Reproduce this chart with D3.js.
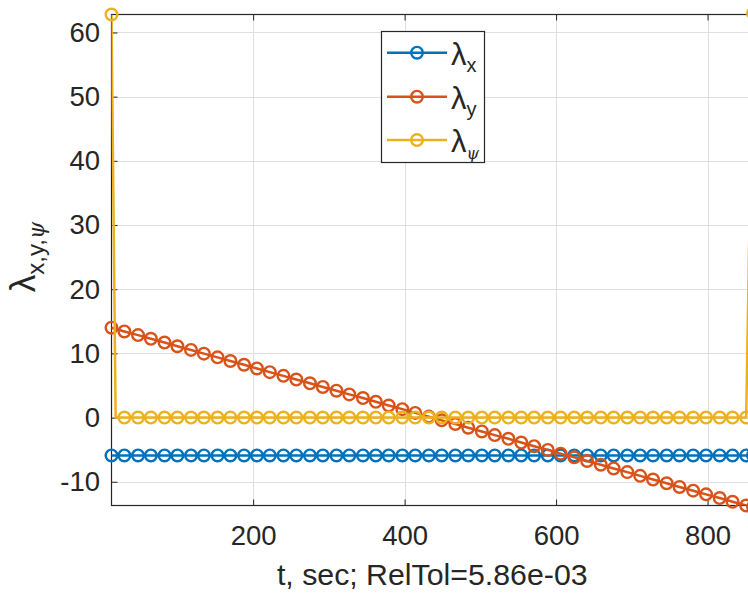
<!DOCTYPE html>
<html>
<head>
<meta charset="utf-8">
<script src="https://cdn.jsdelivr.net/npm/d3@7"></script>
<style>
  html, body { margin: 0; padding: 0; background: #fff; }
  svg { display: block; }
  text { font-family: "Liberation Sans", Arial, Helvetica, sans-serif; fill: #262626; }
</style>
</head>
<body>
<svg id="chart" width="748" height="595"></svg>
<script>
// Sample times (s) shared by the x and y multipliers
const t = [13, 30, 48, 65, 83, 100, 118, 135, 153, 170, 188, 205, 222, 240, 257, 275,
  292, 310, 327, 345, 362, 379, 397, 414, 432, 449, 467, 484, 502, 519, 537, 554,
  571, 589, 606, 624, 641, 659, 676, 694, 711, 728, 746, 763, 781, 798, 816, 833, 851, 860];

const lambdaX = [-5.9, -5.9, -5.9, -5.9, -5.9, -5.9, -5.9, -5.9, -5.9, -5.9, -5.9, -5.9, -5.9,
  -5.9, -5.9, -5.9, -5.9, -5.9, -5.9, -5.9, -5.9, -5.9, -5.9, -5.9, -5.9, -5.9, -5.9, -5.9,
  -5.9, -5.9, -5.9, -5.9, -5.9, -5.9, -5.9, -5.9, -5.9, -5.9, -5.9, -5.9, -5.9, -5.9, -5.9,
  -5.9, -5.9, -5.9, -5.9, -5.9, -5.9, -5.9];

const lambdaY = [14.0, 13.42, 12.85, 12.27, 11.69, 11.11, 10.54, 9.96, 9.38, 8.81, 8.23, 7.65,
  7.08, 6.50, 5.92, 5.34, 4.77, 4.19, 3.61, 3.04, 2.46, 1.88, 1.31, 0.73, 0.15, -0.43, -1.00,
  -1.58, -2.16, -2.73, -3.31, -3.89, -4.46, -5.04, -5.62, -6.20, -6.77, -7.35, -7.93, -8.50,
  -9.08, -9.66, -10.23, -10.81, -11.39, -11.96, -12.54, -13.12, -13.70, -13.90];

// Heading multiplier has its own time base (extra knot right after the initial spike)
const tPsi = [13, 18.5, 30, 48, 65, 83, 100, 118, 135, 153, 170, 188, 205, 222, 240, 257, 275,
  292, 310, 327, 345, 362, 379, 397, 414, 432, 449, 467, 484, 502, 519, 537, 554,
  571, 589, 606, 624, 641, 659, 676, 694, 711, 728, 746, 763, 781, 798, 816, 833, 851, 860];
const lambdaPsi = [62.8, 0, 0, 0, 0, 0, 0, 0, 0, 0, 0, 0, 0, 0, 0, 0, 0, 0, 0, 0, 0, 0, 0, 0, 0,
  0, 0, 0, 0, 0, 0, 0, 0, 0, 0, 0, 0, 0, 0, 0, 0, 0, 0, 0, 0, 0, 0, 0, 0, 0, 63.0];
const psiNoMarker = [1];

const xTicks = [200, 400, 600, 800];
const yTicks = [-10, 0, 10, 20, 30, 40, 50, 60];
const xDomain = [13, 860];
const yDomain = [-13.7, 62.8];

const colors = { x: "#0072BD", y: "#D95319", psi: "#EDB120" };

const svg = d3.select("#chart");
const plot = { left: 111.5, top: 14.5, bottom: 505.5, right: 753 };

const x = d3.scaleLinear().domain(xDomain).range([plot.left, plot.right]);
const y = d3.scaleLinear().domain(yDomain).range([plot.bottom, plot.top]);

// grid
const grid = svg.append("g").attr("stroke", "#dfdfdf").attr("stroke-width", 1);
grid.selectAll("line.gx").data(xTicks).join("line")
  .attr("x1", d => Math.round(x(d)) + 0.5).attr("x2", d => Math.round(x(d)) + 0.5)
  .attr("y1", plot.top).attr("y2", plot.bottom);
grid.selectAll("line.gy").data(yTicks).join("line")
  .attr("y1", d => Math.round(y(d)) + 0.5).attr("y2", d => Math.round(y(d)) + 0.5)
  .attr("x1", plot.left).attr("x2", plot.right);

// axes (plain hyphen-minus for negative labels)
const fmt = d => String(d);
const axisStyle = g => {
  g.select(".domain").remove();
  g.selectAll(".tick line").attr("stroke", "#262626").attr("stroke-width", 1);
  g.selectAll(".tick text").attr("fill", "#262626").style("font-size", "27.5px")
    .style("font-family", "'Liberation Sans', Arial, Helvetica, sans-serif");
};
svg.append("g").attr("transform", `translate(0,${plot.bottom})`)
  .call(d3.axisBottom(x).tickValues(xTicks).tickFormat(fmt)
    .tickSizeInner(-6).tickSizeOuter(0).tickPadding(20))
  .call(axisStyle);
svg.append("g").attr("transform", `translate(0,${plot.top})`)
  .call(d3.axisTop(x).tickValues(xTicks).tickFormat("").tickSizeInner(-6).tickSizeOuter(0))
  .call(axisStyle);
svg.append("g").attr("transform", `translate(${plot.left},0)`)
  .call(d3.axisLeft(y).tickValues(yTicks).tickFormat(fmt)
    .tickSizeInner(-6).tickSizeOuter(0).tickPadding(11.5))
  .call(axisStyle);

// box
svg.append("rect")
  .attr("x", plot.left).attr("y", plot.top)
  .attr("width", plot.right - plot.left).attr("height", plot.bottom - plot.top)
  .attr("fill", "none").attr("stroke", "#262626").attr("stroke-width", 1.2);

// clip for lines
svg.append("clipPath").attr("id", "plotClip").append("rect")
  .attr("x", plot.left).attr("y", plot.top)
  .attr("width", plot.right - plot.left).attr("height", plot.bottom - plot.top);

const series = [
  { key: "x", times: t, vals: lambdaX, skip: [] },
  { key: "y", times: t, vals: lambdaY, skip: [] },
  { key: "psi", times: tPsi, vals: lambdaPsi, skip: psiNoMarker }
];

const line = d3.line().x(d => x(d[0])).y(d => y(d[1]));

series.forEach(s => {
  const pts = s.times.map((tt, i) => [tt, s.vals[i]]);
  const g = svg.append("g");
  g.append("path").datum(pts)
    .attr("clip-path", "url(#plotClip)")
    .attr("d", line).attr("fill", "none")
    .attr("stroke", colors[s.key]).attr("stroke-width", 2.5).attr("stroke-linejoin", "round");
  g.selectAll("circle").data(pts.filter((p, i) => !s.skip.includes(i))).join("circle")
    .attr("cx", d => x(d[0])).attr("cy", d => y(d[1])).attr("r", 5.8)
    .attr("fill", "none").attr("stroke", colors[s.key]).attr("stroke-width", 2.4);
});

// axis labels
svg.append("text")
  .attr("x", (plot.left + plot.right) / 2).attr("y", 584.5)
  .attr("text-anchor", "middle").style("font-size", "30.3px")
  .text("t, sec; RelTol=5.86e-03");

const yl = svg.append("text")
  .attr("transform", "translate(35,257) rotate(-90)")
  .attr("text-anchor", "middle");
yl.append("tspan").style("font-size", "35px").text("λ");
yl.append("tspan").attr("dy", 9).style("font-size", "24px").text("x,y,");
yl.append("tspan").style("font-size", "22px")
  .style("font-family", "'DejaVu Serif', 'Liberation Serif', serif")
  .style("font-style", "italic").text("ψ");

// legend
const legend = svg.append("g");
legend.append("rect")
  .attr("x", 381.5).attr("y", 31.5).attr("width", 103).attr("height", 131)
  .attr("fill", "#fff").attr("stroke", "#262626").attr("stroke-width", 1.2);
const legendRows = [
  { key: "x", sub: "x", cy: 52.7, italic: false },
  { key: "y", sub: "y", cy: 96.7, italic: false },
  { key: "psi", sub: "ψ", cy: 140, italic: true }
];
legendRows.forEach(r => {
  legend.append("line").attr("x1", 387).attr("x2", 447)
    .attr("y1", r.cy).attr("y2", r.cy)
    .attr("stroke", colors[r.key]).attr("stroke-width", 2.5);
  legend.append("circle").attr("cx", 417).attr("cy", r.cy).attr("r", 5.8)
    .attr("fill", "none").attr("stroke", colors[r.key]).attr("stroke-width", 2.4);
  const tx = legend.append("text").attr("x", 451).attr("y", r.cy + 12);
  tx.append("tspan").style("font-size", "31px").text("λ");
  const sub = tx.append("tspan").attr("dy", 7).style("font-size", "20px").text(r.sub);
  if (r.italic) {
    sub.style("font-family", "'DejaVu Serif', 'Liberation Serif', serif")
      .style("font-style", "italic").style("font-size", "16px");
  }
});
</script>
</body>
</html>
